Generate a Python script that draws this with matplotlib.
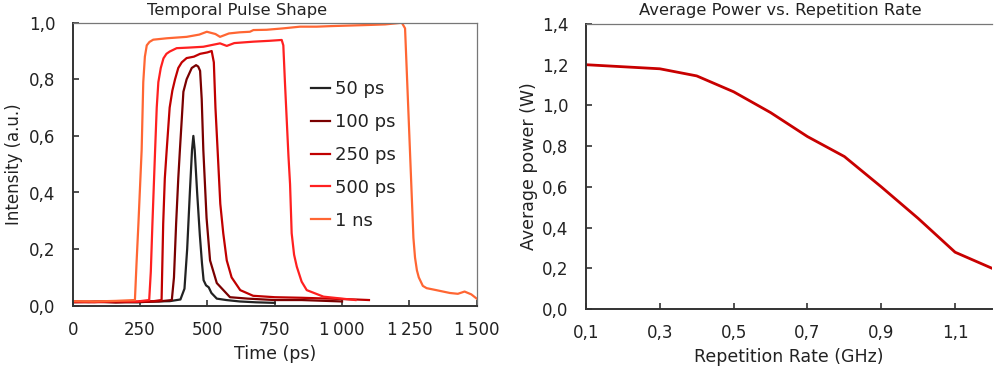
import matplotlib
matplotlib.use("Agg")
import matplotlib.pyplot as plt
from matplotlib.ticker import FuncFormatter, MultipleLocator

plt.rcParams['font.family'] = ['DejaVu Sans']

# ---------------- Data ----------------
t_50 = [0, 60, 120, 180, 240, 300, 360, 400, 415, 425, 435, 443, 448, 453, 462, 472, 480,
        486, 495, 505, 515, 535, 570, 620, 680, 750]
i_50 = [0.015, 0.013, 0.016, 0.014, 0.012, 0.015, 0.016, 0.022, 0.06, 0.2, 0.4, 0.55, 0.6,
        0.55, 0.4, 0.25, 0.15, 0.09, 0.072, 0.065, 0.045, 0.025, 0.02, 0.015, 0.012, 0.01]

t_100 = [0, 80, 160, 240, 320, 368, 376, 384, 392, 398, 405, 411, 423, 442, 458, 466, 473,
         479, 485, 497, 510, 535, 584, 650, 750, 850, 1000]
i_100 = [0.012, 0.014, 0.011, 0.013, 0.015, 0.02, 0.1, 0.29, 0.45, 0.55, 0.66, 0.756, 0.8,
         0.84, 0.85, 0.845, 0.83, 0.73, 0.55, 0.31, 0.16, 0.08, 0.03, 0.025, 0.02, 0.02, 0.015]

t_250 = [0, 80, 160, 240, 300, 330, 336, 342, 349, 360, 370, 380, 392, 405, 423, 450, 473,
         500, 516, 524, 530, 538, 548, 559, 572, 590, 622, 670, 750, 850, 950, 1050, 1100]
i_250 = [0.013, 0.012, 0.015, 0.014, 0.016, 0.02, 0.29, 0.45, 0.55, 0.7, 0.76, 0.8, 0.84,
         0.86, 0.875, 0.88, 0.89, 0.895, 0.9, 0.86, 0.7, 0.55, 0.36, 0.256, 0.16, 0.1, 0.055,
         0.035, 0.03, 0.028, 0.025, 0.022, 0.02]

t_500 = [0, 80, 160, 240, 284, 290, 296, 306, 312, 318, 327, 337, 348, 360, 386, 430, 485,
         547, 572, 600, 671, 730, 776, 782, 788, 801, 807, 813, 822, 832, 850, 869, 931,
         1000, 1050]
i_500 = [0.015, 0.014, 0.016, 0.015, 0.02, 0.12, 0.29, 0.55, 0.7, 0.79, 0.84, 0.874, 0.89,
         0.898, 0.91, 0.912, 0.915, 0.927, 0.918, 0.928, 0.933, 0.936, 0.939, 0.92, 0.79,
         0.53, 0.43, 0.256, 0.18, 0.138, 0.085, 0.055, 0.032, 0.025, 0.02]

t_1ns = [0, 80, 160, 231, 237, 244, 250, 256, 262, 268, 275, 285, 299, 350, 423, 470, 498,
         530, 547, 580, 620, 658, 671, 720, 782, 844, 906, 960, 1030, 1100, 1160, 1203, 1222,
         1234, 1250, 1265, 1271, 1278, 1285, 1300, 1314, 1350, 1400, 1430, 1455, 1480, 1500]
i_1ns = [0.016, 0.015, 0.017, 0.02, 0.15, 0.29, 0.42, 0.55, 0.79, 0.88, 0.92, 0.932, 0.94,
         0.945, 0.95, 0.958, 0.968, 0.96, 0.95, 0.962, 0.966, 0.968, 0.974, 0.975, 0.98,
         0.986, 0.986, 0.988, 0.99, 0.992, 0.994, 0.998, 1.0, 0.98, 0.6, 0.24, 0.17, 0.125,
         0.1, 0.07, 0.062, 0.055, 0.045, 0.042, 0.05, 0.04, 0.025]

pulse_labels = ['50 ps', '100 ps', '250 ps', '500 ps', '1 ns']
pulse_colors = ['#222222', '#7a0000', '#c00000', '#ff2020', '#ff6633']

rep_rate = [0.1, 0.3, 0.4, 0.5, 0.6, 0.7, 0.8, 0.9, 1.0, 1.1, 1.2]
avg_power = [1.20, 1.18, 1.145, 1.067, 0.965, 0.847, 0.749, 0.60, 0.445, 0.279, 0.20]

time_ticks = [0, 250, 500, 750, 1000, 1250, 1500]
time_tick_labels = ['0', '250', '500', '750', '1\u2009000', '1\u2009250', '1\u2009500']

# ---------------- Figure ----------------
W, H = 999, 370
fig = plt.figure(figsize=(W / 100, H / 100), dpi=100)

def px_axes(x0, y0, x1, y1):
    return fig.add_axes([x0 / W, 1 - y1 / H, (x1 - x0) / W, (y1 - y0) / H])

ax1 = px_axes(72.7, 22.7, 476.7, 305.7)
ax2 = px_axes(586, 24, 992, 309)

comma = FuncFormatter(lambda v, p: f"{v:.1f}".replace('.', ','))

def style(ax):
    for s in ['left', 'bottom']:
        ax.spines[s].set_color('#333333')
        ax.spines[s].set_linewidth(1.4)
    for s in ['top', 'right']:
        ax.spines[s].set_color('#777777')
        ax.spines[s].set_linewidth(0.9)
    ax.tick_params(direction='in', length=4, width=1.2, color='#333333',
                   labelsize=12, labelcolor='#222222')
    ax.tick_params(axis='x', pad=11)
    ax.tick_params(axis='y', pad=12.5)

style(ax1)
style(ax2)
ax2.spines['right'].set_visible(False)

series = [(t_50, i_50), (t_100, i_100), (t_250, i_250), (t_500, i_500), (t_1ns, i_1ns)]
for (t, i), lab, c in zip(series, pulse_labels, pulse_colors):
    ax1.plot(t, i, color=c, lw=1.6, label=lab)

ax1.set_xlim(0, 1500)
ax1.set_ylim(0, 1.0)
ax1.set_xticks(time_ticks)
ax1.set_xticklabels(time_tick_labels)
ax1.yaxis.set_major_locator(MultipleLocator(0.2))
ax1.yaxis.set_major_formatter(comma)
ax1.set_xlabel('Time (ps)', fontsize=12.5, color='#222222', labelpad=4)
ax1.set_ylabel('Intensity (a.u.)', fontsize=12, color='#222222', labelpad=4)
fig.text(237.5 / W, 1 - 10.5 / H, 'Temporal Pulse Shape', fontsize=11.8, color='#222222',
         ha='center', va='center')

leg = ax1.legend(loc='center left', bbox_to_anchor=(0.59, 0.5325), frameon=False,
                 fontsize=13, handlelength=1.05, handletextpad=0.3, labelspacing=0.82,
                 borderpad=0, borderaxespad=0)
for txt in leg.get_texts():
    txt.set_color('#222222')

ax2.plot(rep_rate, avg_power, color='#c80000', lw=2)
ax2.set_xlim(0.1, 1.2)
ax2.set_ylim(0, 1.4)
ax2.set_xticks([0.1, 0.3, 0.5, 0.7, 0.9, 1.1])
ax2.xaxis.set_major_formatter(comma)
ax2.yaxis.set_major_locator(MultipleLocator(0.2))
ax2.yaxis.set_major_formatter(comma)
ax2.set_xlabel('Repetition Rate (GHz)', fontsize=12.5, color='#222222', labelpad=4)
ax2.set_ylabel('Average power (W)', fontsize=12.5, color='#222222', labelpad=3)
fig.text(780 / W, 1 - 10.5 / H, 'Average Power vs. Repetition Rate', fontsize=11.8,
         color='#222222', ha='center', va='center')

fig.savefig('out.png', dpi=100)
